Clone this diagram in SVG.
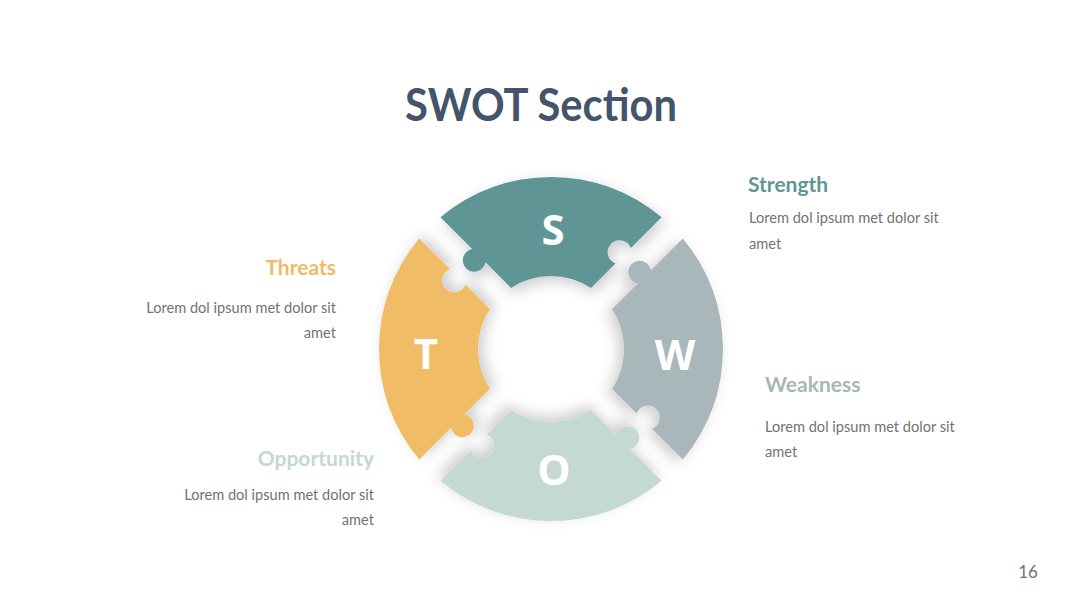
<svg xmlns="http://www.w3.org/2000/svg" xmlns:xlink="http://www.w3.org/1999/xlink" width="1080" height="608" viewBox="0 0 1080 608">
  <style>
    .title { font-family: Lato, "Liberation Sans", sans-serif; font-weight: 700; font-size: 46px; fill: #44546A; }
    .head { font-family: Lato, "Liberation Sans", sans-serif; font-weight: 700; font-size: 21px; }
    .body { font-family: Lato, "Liberation Sans", sans-serif; font-size: 14.6px; fill: #767171; }
    .letter { font-family: "Open Sans", "Liberation Sans", sans-serif; font-weight: 700; font-size: 42px; fill: #FFFFFF; text-anchor: middle; }
    .num { font-family: Lato, "Liberation Sans", sans-serif; font-size: 17px; fill: #767171; text-anchor: middle; }
  </style>
  <defs>
    <filter id="shadow" x="-30%" y="-30%" width="160%" height="160%">
      <feDropShadow dx="3" dy="5" stdDeviation="7" flood-color="#000000" flood-opacity="0.2"/>
    </filter>
    <path id="piece" d="M -110.56 -131.77 A 172 172 0 0 1 110.56 -131.77 L 79.84 -101.05 A 12 12 0 1 0 64.41 -85.62 L 39.91 -61.12 A 73 73 0 0 0 -39.91 -61.12 L -65.41 -86.63 A 11.5 11.5 0 1 1 -78.84 -100.05 Z"/>
  </defs>
  <rect width="1080" height="608" fill="#FFFFFF"/>

  <text class="title" x="541" y="121" text-anchor="middle" textLength="272" lengthAdjust="spacingAndGlyphs">SWOT Section</text>

  <g id="connectors"></g>

  <g id="node-S">
    <use xlink:href="#piece" href="#piece" transform="translate(551,349)" fill="#5E9594" filter="url(#shadow)"/>
    <text class="letter" x="553" y="245">S</text>
  </g>
  <g id="node-W">
    <use xlink:href="#piece" href="#piece" transform="translate(551,349) rotate(90)" fill="#A9B7BA" filter="url(#shadow)"/>
    <text class="letter" x="675" y="370">W</text>
  </g>
  <g id="node-O">
    <use xlink:href="#piece" href="#piece" transform="translate(551,349) rotate(180)" fill="#C4D9D3" filter="url(#shadow)"/>
    <text class="letter" x="554" y="485">O</text>
  </g>
  <g id="node-T">
    <use xlink:href="#piece" href="#piece" transform="translate(551,349) rotate(270)" fill="#F0BC66" filter="url(#shadow)"/>
    <text class="letter" x="426" y="369">T</text>
  </g>

  <g id="label-strength">
    <text class="head" x="748" y="192" fill="#5E9693">Strength</text>
    <text class="body" x="749" y="223">Lorem dol ipsum met dolor sit</text>
    <text class="body" x="749" y="249">amet</text>
  </g>
  <g id="label-threats" text-anchor="end">
    <text class="head" x="336" y="275" fill="#F0BA63">Threats</text>
    <text class="body" x="336" y="313">Lorem dol ipsum met dolor sit</text>
    <text class="body" x="336" y="338">amet</text>
  </g>
  <g id="label-weakness">
    <text class="head" x="765" y="392" fill="#A8B6B9">Weakness</text>
    <text class="body" x="765" y="432">Lorem dol ipsum met dolor sit</text>
    <text class="body" x="765" y="457">amet</text>
  </g>
  <g id="label-opportunity" text-anchor="end">
    <text class="head" x="374" y="466" fill="#C3D8D1">Opportunity</text>
    <text class="body" x="374" y="500">Lorem dol ipsum met dolor sit</text>
    <text class="body" x="374" y="525">amet</text>
  </g>

  <text class="num" x="1028" y="578">16</text>
</svg>
